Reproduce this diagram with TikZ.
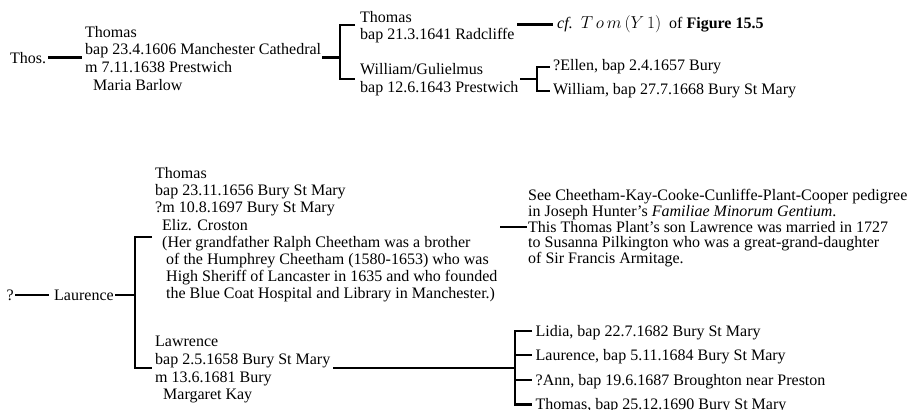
\documentclass[tikz,border=0pt]{standalone}
\usepackage{fontspec}
\setmainfont{Liberation Serif}
\begin{document}
\begin{tikzpicture}[x=1pt,y=1pt,
  ln/.style={line width=2.8pt,line join=miter},
  txt/.style={inner sep=0pt,anchor=base west,align=left,font={\fontsize{16}{17.6}\selectfont}},
  txtb/.style={txt,font={\fontsize{16}{17.2}\selectfont}},
  txtc/.style={txt,font={\fontsize{16}{15.9}\selectfont}}]
\useasboundingbox (0,0) rectangle (914,410);
% ---------- top family (base anchor = last line) ----------
\node[txt] (thos) at (10,346.7) {Thos.};
\node[txt] (thomasA) at (85,319.9) {Thomas\\bap 23.4.1606 Manchester Cathedral\\m 7.11.1638 Prestwich\\\hspace*{8pt}Maria Barlow};
\node[txt] (thomasB) at (360,370.2) {Thomas\\bap 21.3.1641 Radcliffe};
\node[txt] (cf) at (557,381.2) {\textit{cf.}\ \ $T\,o\,m\,(Y\,1)$\ \ of \textbf{Figure 15.5}};
\node[txt] (william) at (360,317.6) {William/Gulielmus\\bap 12.6.1643 Prestwich};
\node[txt] (ellen) at (553,339.5) {?Ellen, bap 2.4.1657 Bury};
\node[txt] (williamB) at (553,315.5) {William, bap 27.7.1668 Bury St Mary};
\coordinate (a1) at (48,352.7); \coordinate (a2) at (82,352.7);
\draw[ln] (a1) -- (a2);
\coordinate (b1) at (322,352.7); \coordinate (b2) at (340,352.7);
\coordinate (b3) at (355,385); \coordinate (b4) at (340,385);
\coordinate (b5) at (340,331); \coordinate (b6) at (355,331);
\draw[ln] (b1) -- (b2);
\draw[ln] (b3) -- (b4) -- (b5) -- (b6);
\coordinate (c1) at (517,385.7); \coordinate (c2) at (553,385.7);
\draw[ln] (c1) -- (c2);
\coordinate (d1) at (520,331); \coordinate (d2) at (537,331);
\coordinate (d3) at (550,343); \coordinate (d4) at (537,343);
\coordinate (d5) at (537,319); \coordinate (d6) at (550,319);
\draw[ln] (d1) -- (d2);
\draw[ln] (d3) -- (d4) -- (d5) -- (d6);
% ---------- bottom family ----------
\node[txt] (q) at (6.5,109.7) {?};
\node[txt] (laurence) at (54,109.7) {Laurence};
\node[txtb] (thomasC) at (155,111.1) {Thomas\\bap 23.11.1656 Bury St Mary\\?m 10.8.1697 Bury St Mary\\\hspace*{7pt}Eliz. Croston\\\hspace*{7pt}(Her grandfather Ralph Cheetham was a brother\\\hspace*{11pt}of the Humphrey Cheetham (1580-1653) who was\\\hspace*{11pt}High Sheriff of Lancaster in 1635 and who founded\\\hspace*{11pt}the Blue Coat Hospital and Library in Manchester.)};
\node[txtc] (see) at (528,146.1) {See Cheetham-Kay-Cooke-Cunliffe-Plant-Cooper pedigree\\in Joseph Hunter's \textit{Familiae Minorum Gentium}.\\This Thomas Plant's son Lawrence was married in 1727\\to Susanna Pilkington who was a great-grand-daughter\\of Sir Francis Armitage.};
\node[txt] (lawrence) at (155,10.2) {Lawrence\\bap 2.5.1658 Bury St Mary\\m 13.6.1681 Bury\\\hspace*{8pt}Margaret Kay};
\node[txt] (lidia) at (535.5,73.7) {Lidia, bap 22.7.1682 Bury St Mary};
\node[txt] (laurenceB) at (535.5,49.7) {Laurence, bap 5.11.1684 Bury St Mary};
\node[txt] (ann) at (535.5,24.7) {?Ann, bap 19.6.1687 Broughton near Preston};
\node[txt] (thomasD) at (535.5,0.4) {Thomas, bap 25.12.1690 Bury St Mary};
\coordinate (e1) at (15,115); \coordinate (e2) at (49,115);
\draw[ln] (e1) -- (e2);
\coordinate (f1) at (115,115); \coordinate (f2) at (135,115);
\coordinate (f3) at (152,173); \coordinate (f4) at (135,173);
\coordinate (f5) at (135,42); \coordinate (f6) at (152,42);
\draw[ln] (f1) -- (f2);
\draw[ln] (f3) -- (f4) -- (f5) -- (f6);
\coordinate (g1) at (500,183); \coordinate (g2) at (527,183);
\draw[ln] (g1) -- (g2);
\coordinate (h1) at (333,42); \coordinate (h2) at (515,42);
\coordinate (k1) at (532,79); \coordinate (v1) at (515,79);
\coordinate (k2) at (532,55); \coordinate (v2) at (515,55);
\coordinate (k3) at (532,30); \coordinate (v3) at (515,30);
\coordinate (k4) at (532,5.7); \coordinate (v4) at (515,5.7);
\draw[ln] (h1) -- (h2);
\draw[ln] (k1) -- (v1) -- (v4) -- (k4);
\draw[ln] (v2) -- (k2);
\draw[ln] (v3) -- (k3);
\end{tikzpicture}
\end{document}
